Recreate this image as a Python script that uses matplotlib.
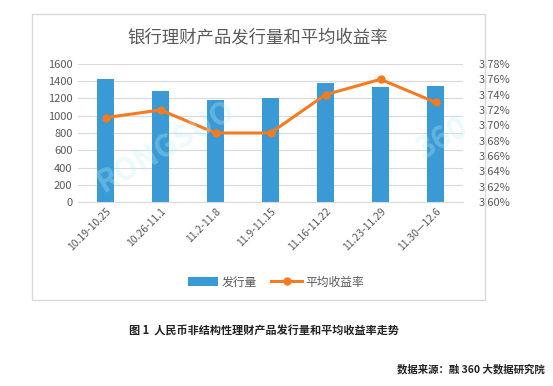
import matplotlib.pyplot as plt
from matplotlib.patches import Rectangle
from matplotlib.ticker import FuncFormatter

plt.rcParams['font.family'] = ['Noto Sans CJK SC', 'DejaVu Sans']

weeks = ["10.19-10.25", "10.26-11.1", "11.2-11.8", "11.9-11.15",
         "11.16-11.22", "11.23-11.29", "11.30\u201412.6"]
volume = [1425, 1285, 1180, 1210, 1380, 1330, 1345]
avg_yield = [3.71, 3.72, 3.69, 3.69, 3.74, 3.76, 3.73]

bar_color = "#3A9AD5"
line_color = "#F47B20"

fig = plt.figure(figsize=(5.53, 3.86), dpi=100)

# chart frame
fig.patches.append(Rectangle((32 / 553, 1 - 300 / 386), (485 - 32) / 553, (300 - 14) / 386,
                             transform=fig.transFigure, fill=False,
                             edgecolor="#D9D9D9", linewidth=1.0))

ax = fig.add_axes([78 / 553, 1 - 202 / 386, (463 - 78) / 553, (202 - 64) / 386])
x = range(len(weeks))
ax.bar(x, volume, width=0.3, color=bar_color, zorder=2, label="发行量")
ax.set_ylim(0, 1600)
ax.set_yticks(range(0, 1601, 200))
ax.set_xlim(-0.5, len(weeks) - 0.5)
ax.set_xticks(list(x))
ax.set_xticklabels(weeks, rotation=45, ha="right", rotation_mode="anchor",
                   fontsize=7.5, color="#595959")
ax.tick_params(axis="y", labelsize=8, colors="#595959", length=0, pad=4)
ax.tick_params(axis="x", length=0, pad=3)
ax.grid(axis="y", color="#D9D9D9", linewidth=0.8, zorder=0)
for s in ax.spines.values():
    s.set_visible(False)
ax.spines["bottom"].set_visible(True)
ax.spines["bottom"].set_color("#D9D9D9")

ax2 = ax.twinx()
ax2.plot(x, avg_yield, color=line_color, linewidth=2.2, marker="o",
         markersize=5, zorder=3, label="平均收益率")
ax2.set_ylim(3.60, 3.78)
ax2.set_yticks([3.60 + 0.02 * i for i in range(10)])
ax2.yaxis.set_major_formatter(FuncFormatter(lambda v, p: f"{v:.2f}%"))
ax2.tick_params(axis="y", labelsize=8, colors="#595959", length=0, pad=11)
for s in ax2.spines.values():
    s.set_visible(False)

# faint watermark
fig.text(0.30, 0.62, "RONGSUO", fontsize=22, color="#BDEFF7", alpha=0.3,
         rotation=30, ha="center", va="center", fontweight="bold", zorder=0)
fig.text(0.80, 0.64, "360", fontsize=22, color="#BDEFF7", alpha=0.3,
         rotation=30, ha="center", va="center", fontweight="bold", zorder=0)

fig.text(258 / 553, 1 - 37 / 386, "银行理财产品发行量和平均收益率", fontsize=12.5,
         color="#595959", ha="center", va="center")

h1, l1 = ax.get_legend_handles_labels()
h2, l2 = ax2.get_legend_handles_labels()
fig.legend(h1 + h2, l1 + l2, loc="center", bbox_to_anchor=(276 / 553, 1 - 282 / 386),
           ncol=2, frameon=False, fontsize=8.5, labelcolor="#595959",
           handlelength=2.6, columnspacing=1.2, handletextpad=0.3)

fig.text(129 / 553, 1 - 331 / 386, "图 1  人民币非结构性理财产品发行量和平均收益率走势",
         fontsize=8, fontweight="bold", color="#222222", ha="left", va="center")
fig.text(545 / 553, 1 - 369 / 386, "数据来源：融 360 大数据研究院",
         fontsize=7.5, fontweight="bold", color="#222222", ha="right", va="center")

fig.savefig("out.png", dpi=100)
